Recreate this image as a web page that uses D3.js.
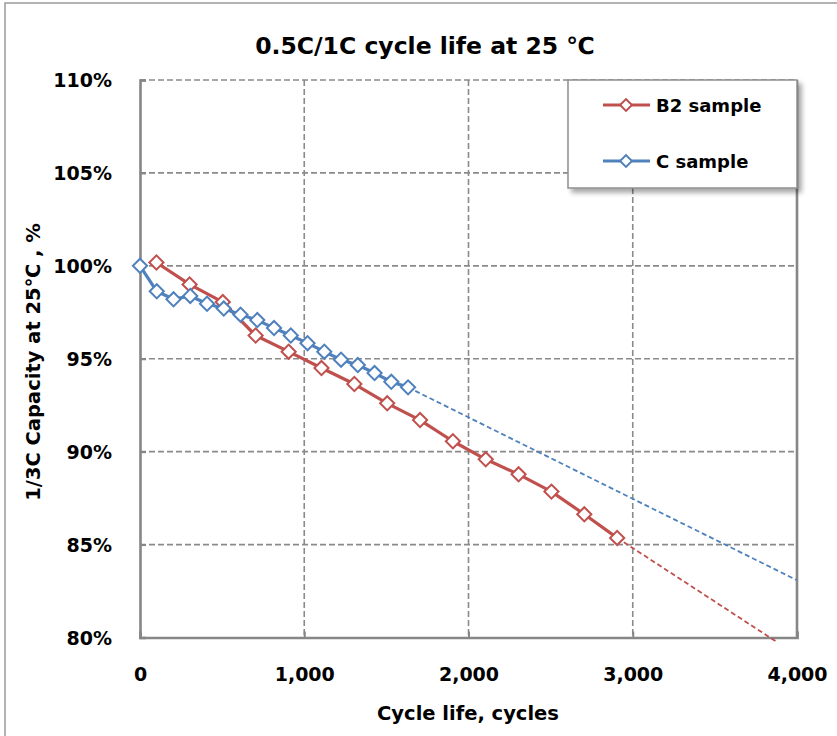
<!DOCTYPE html>
<html><head><meta charset="utf-8">
<script src="https://cdn.jsdelivr.net/npm/d3@7"></script>
<style>html,body{margin:0;padding:0;background:#fff;}svg{display:block;}</style>
</head><body>
<script>
// ---- data ----
const cX = [0,102,204,306,408,510,612,714,816,918,1020,1122,1224,1326,1428,1530,1632];
const cY = [100.0,98.63,98.2,98.38,97.96,97.7,97.37,97.08,96.65,96.25,95.84,95.38,94.95,94.66,94.23,93.76,93.46];
const b2X = [100,302,504,704,905,1105,1305,1505,1705,1905,2105,2305,2505,2705,2905];
const b2Y = [100.18,99.0,98.05,96.25,95.38,94.5,93.64,92.6,91.7,90.56,89.59,88.78,87.85,86.63,85.36];
const cTrend = [[1632,93.46],[4000,83.08]];
const b2Trend = [[2905,85.36],[3870,79.8]];
const xTicks = [0,1000,2000,3000,4000];
const yTicks = [80,85,90,95,100,105,110];
const seriesNames = ["B2 sample","C sample"];
const titleText = "0.5C/1C cycle life at 25 ℃";
const xTitle = "Cycle life, cycles";
const yTitle = "1/3C Capacity at 25℃ , %";

const W = 837, H = 736;
const red = "#C0504D", blue = "#4F81BD", grid = "#8a8a8a", axisC = "#868686";
const font = "'DejaVu Sans', sans-serif";

const svg = d3.select("body").append("svg").attr("width", W).attr("height", H);
const defs = svg.append("defs");
const f = defs.append("filter").attr("id","sh").attr("x","-10%").attr("y","-10%").attr("width","130%").attr("height","140%");
f.append("feDropShadow").attr("dx",4).attr("dy",4).attr("stdDeviation",2.5).attr("flood-color","#000").attr("flood-opacity",0.35);

// outer chart border
svg.append("rect").attr("x",5).attr("y",3).attr("width",W).attr("height",H)
  .attr("fill","#fff").attr("stroke","#9a9a9a").attr("stroke-width",1.5);

const x = d3.scaleLinear().domain([0,4000]).range([140,797]);
const y = d3.scaleLinear().domain([80,110]).range([637.5,80]);

// gridlines
const g = svg.append("g");
g.selectAll(".hg").data(yTicks.filter(d=>d>80)).enter().append("line")
  .attr("x1",x(0)).attr("x2",x(4000)).attr("y1",d=>y(d)).attr("y2",d=>y(d))
  .attr("stroke",grid).attr("stroke-width",1.6).attr("stroke-dasharray","6,3");
g.selectAll(".vg").data(xTicks.filter(d=>d>0 && d<4000)).enter().append("line")
  .attr("x1",d=>x(d)).attr("x2",d=>x(d)).attr("y1",y(110)).attr("y2",y(80))
  .attr("stroke",grid).attr("stroke-width",1.6).attr("stroke-dasharray","6,3");

// axes
const xAxis = d3.axisBottom(x).tickValues(xTicks).tickSize(-6).tickFormat(d3.format(","));
const yAxis = d3.axisLeft(y).tickValues(yTicks).tickSize(-6).tickFormat(d=>d+"%");
const xa = svg.append("g").attr("transform",`translate(0,${y(80)})`).call(xAxis);
const ya = svg.append("g").attr("transform",`translate(${x(0)},0)`).call(yAxis);
[xa,ya].forEach(a=>{
  a.select(".domain").attr("stroke",axisC).attr("stroke-width",2.6);
  a.selectAll(".tick line").attr("stroke",axisC).attr("stroke-width",2);
  a.selectAll(".tick text").attr("font-family",font).attr("font-weight","bold")
    .attr("font-size",19).attr("fill","#000");
});
xa.selectAll(".tick text").attr("y",43).attr("dy",0);
ya.selectAll(".tick text").attr("x",-28).attr("dy","0.36em");
// right border
svg.append("line").attr("x1",x(4000)).attr("x2",x(4000)).attr("y1",y(110)).attr("y2",y(80)+1.3)
  .attr("stroke",axisC).attr("stroke-width",2.6);

// trend lines
const line = d3.line().x(d=>x(d[0])).y(d=>y(d[1]));
svg.append("path").attr("d",line(cTrend)).attr("fill","none").attr("stroke",blue)
  .attr("stroke-width",1.8).attr("stroke-dasharray","5,3");
svg.append("path").attr("d",line(b2Trend)).attr("fill","none").attr("stroke",red)
  .attr("stroke-width",1.8).attr("stroke-dasharray","5,3");

// series
const diamond = d3.symbol().type(d3.symbolDiamond2 || d3.symbolDiamond).size(110);
function series(xs, ys, col){
  const pts = xs.map((v,i)=>[v,ys[i]]);
  svg.append("path").attr("d",line(pts)).attr("fill","none").attr("stroke",col)
    .attr("stroke-width",3.2).attr("stroke-linejoin","round");
  svg.append("g").selectAll("path").data(pts).enter().append("path")
    .attr("d",d3.symbol().type(d3.symbolSquare).size(100)())
    .attr("transform",d=>`translate(${x(d[0])},${y(d[1])}) rotate(45)`)
    .attr("fill","#fff").attr("stroke",col).attr("stroke-width",2);
}
series(b2X,b2Y,red);
series(cX,cY,blue);

// legend
const lg = svg.append("g");
lg.append("rect").attr("x",568).attr("y",80).attr("width",229).attr("height",108)
  .attr("fill","#fff").attr("stroke","#8f8f8f").attr("stroke-width",1.5).attr("filter","url(#sh)");
[[red,105],[blue,161]].forEach((c,i)=>{
  lg.append("line").attr("x1",603).attr("x2",650).attr("y1",c[1]).attr("y2",c[1])
    .attr("stroke",c[0]).attr("stroke-width",3.2);
  lg.append("path").attr("d",d3.symbol().type(d3.symbolSquare).size(70)())
    .attr("transform",`translate(626,${c[1]}) rotate(45)`)
    .attr("fill","#fff").attr("stroke",c[0]).attr("stroke-width",2);
  lg.append("text").attr("x",656).attr("y",c[1]+7).text(seriesNames[i])
    .attr("font-family",font).attr("font-weight","bold").attr("font-size",18).attr("fill","#000");
});

// titles
svg.append("text").attr("x",425).attr("y",54).attr("text-anchor","middle").text(titleText)
  .attr("font-family",font).attr("font-weight","bold").attr("font-size",23.5).attr("fill","#000");
svg.append("text").attr("x",468).attr("y",720).attr("text-anchor","middle").text(xTitle)
  .attr("font-family",font).attr("font-weight","bold").attr("font-size",19.5).attr("fill","#000");
svg.append("text").attr("transform","translate(40,362) rotate(-90)").attr("text-anchor","middle").text(yTitle)
  .attr("font-family",font).attr("font-weight","bold").attr("font-size",19.5).attr("fill","#000");
</script>
</body></html>
